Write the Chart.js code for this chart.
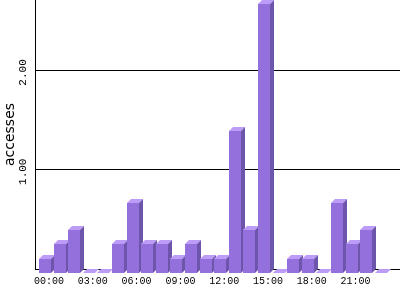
<!DOCTYPE html>
<html lang="en">
<head>
  <meta charset="UTF-8">
  <title>Accesses by hour</title>
  <script src="https://cdn.jsdelivr.net/npm/chart.js"></script>
  <style>
    html, body { margin: 0; padding: 0; background: #fff; }
    #wrap { width: 400px; height: 300px; }
  </style>
</head>
<body>
  <div id="wrap"><canvas id="hourChart"></canvas></div>

  <script>
    // hour of day and average accesses per hour
    const hours = [0, 1, 2, 3, 4, 5, 6, 7, 8, 9, 10, 11, 12, 13, 14, 15, 16, 17, 18, 19, 20, 21, 22, 23];
    const accesses = [0.14, 0.29, 0.43, 0, 0, 0.29, 0.71, 0.29, 0.29, 0.14, 0.29, 0.14,
                      0.14, 1.43, 0.43, 2.71, 0, 0.14, 0.14, 0, 0.71, 0.29, 0.43, 0];
    const hourTicks = [0, 3, 6, 9, 12, 15, 18, 21];
    const yTicks = [1, 2];

    const DEPTH = 4;
    const FRONT = "#9370db", TOP = "#bc9cf7", SIDE = "#6d55ab";

    // draws each bar as a small 3d box, using the positions Chart.js gave the bar
    const boxes = {
      id: "boxes",
      afterDatasetsDraw(chart) {
        const ctx = chart.ctx;
        const meta = chart.getDatasetMeta(0);
        ctx.save();
        meta.data.forEach(el => {
          const p = el.getProps(["x", "y", "base", "width"], true);
          const l = Math.round(p.x - p.width / 2) - DEPTH;
          const r = l + Math.round(p.width);
          const t = Math.round(p.y) + DEPTH;
          const b = Math.round(p.base) + DEPTH;
          ctx.fillStyle = FRONT;
          ctx.fillRect(l, t, r - l, b - t);
          ctx.fillStyle = TOP;
          ctx.beginPath();
          ctx.moveTo(l, t); ctx.lineTo(r, t);
          ctx.lineTo(r + DEPTH, t - DEPTH); ctx.lineTo(l + DEPTH, t - DEPTH);
          ctx.closePath(); ctx.fill();
          if (b > t) {
            ctx.fillStyle = SIDE;
            ctx.beginPath();
            ctx.moveTo(r, t); ctx.lineTo(r + DEPTH, t - DEPTH);
            ctx.lineTo(r + DEPTH, b - DEPTH); ctx.lineTo(r, b);
            ctx.closePath(); ctx.fill();
          }
        });
        ctx.restore();
      },
      // vertical tick labels on the y axis
      afterDraw(chart) {
        const ctx = chart.ctx;
        const y = chart.scales.y;
        ctx.save();
        ctx.fillStyle = "#000";
        ctx.font = "11px 'Liberation Mono'";
        ctx.textAlign = "center";
        ctx.textBaseline = "middle";
        yTicks.forEach(v => {
          ctx.save();
          ctx.translate(23, y.getPixelForValue(v) + 2);
          ctx.rotate(-Math.PI / 2);
          ctx.fillText(v.toFixed(2), 0, 0);
          ctx.restore();
        });
        ctx.restore();
      }
    };

    new Chart(document.getElementById("hourChart"), {
      type: "bar",
      data: {
        datasets: [{
          data: hours.map((h, i) => ({ x: h, y: accesses[i] })),
          backgroundColor: "rgba(0,0,0,0)",
          barThickness: 12
        }]
      },
      options: {
        responsive: true,
        maintainAspectRatio: false,
        animation: false,
        layout: { padding: 0 },
        plugins: { legend: { display: false }, tooltip: { enabled: false } },
        scales: {
          x: {
            type: "linear",
            offset: false,
            min: -0.96,
            max: 24.04,
            afterFit: s => { s.height = 31; },
            afterBuildTicks: s => { s.ticks = hourTicks.map(v => ({ value: v })); },
            grid: { display: false, offset: false },
            border: { color: "#000", width: 1 },
            ticks: {
              color: "#000",
              font: { family: "'Liberation Mono'", size: 10 },
              padding: -2,
              maxRotation: 0,
              autoSkip: false,
              callback: v => String(v).padStart(2, "0") + ":00"
            }
          },
          y: {
            min: 0,
            max: 2.71,
            afterFit: s => { s.width = 35; },
            afterBuildTicks: s => { s.ticks = [0].concat(yTicks).map(v => ({ value: v })); },
            grid: { color: "#000", lineWidth: 1, drawTicks: false },
            border: { color: "#000", width: 1 },
            ticks: { display: false },
            title: {
              display: true,
              text: "accesses",
              color: "#000",
              font: { family: "'DejaVu Sans'", size: 14 },
              padding: { top: 2, bottom: 0 }
            }
          }
        }
      },
      plugins: [boxes]
    });
  </script>
</body>
</html>
